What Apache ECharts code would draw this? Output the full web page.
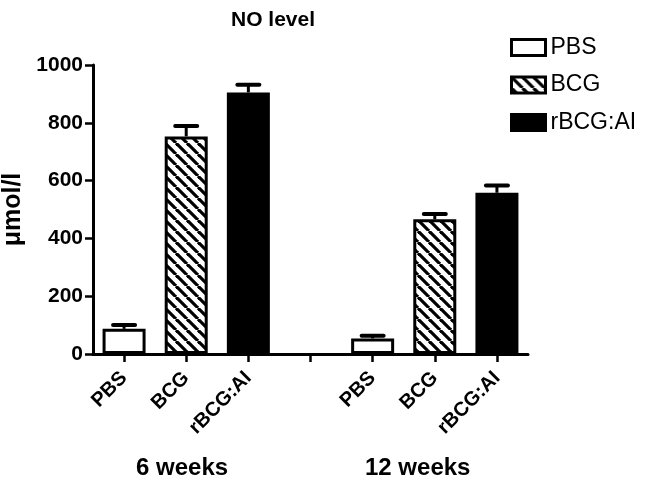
<!DOCTYPE html>
<html>
<head>
<meta charset="utf-8">
<script src="https://cdn.jsdelivr.net/npm/echarts@6/dist/echarts.min.js"></script>
<style>html,body{margin:0;padding:0;background:#fff;}#chart{width:646px;height:488px;}</style>
</head>
<body>
<div id="chart"></div>
<script>
// ---- data ----
const categories = ['PBS', 'BCG', 'rBCG:AI', '', 'PBS', 'BCG', 'rBCG:AI'];
const groupNames = ['PBS', 'BCG', 'rBCG:AI'];
const pbsValues   = [87, '-', '-', '-', 54, '-', '-'];
const bcgValues   = ['-', 753, '-', '-', '-', 466, '-'];
const rbcgValues  = ['-', '-', 905, '-', '-', '-', 558];
const errValues   = [13, 36, 27, null, 9, 18, 25];
const yTicks = [0, 200, 400, 600, 800, 1000];
const periodLabels = ['6 weeks', '12 weeks'];

// ---- build ----
const FONT = 'Liberation Sans, Arial, sans-serif';
function hatch() {
  const s = 11;
  const c = document.createElement('canvas');
  c.width = s; c.height = s;
  const g = c.getContext('2d');
  g.fillStyle = '#fff'; g.fillRect(0, 0, s, s);
  g.strokeStyle = '#000'; g.lineWidth = 3.2;
  [-s, 0, s].forEach(k => {
    g.beginPath(); g.moveTo(k, 0); g.lineTo(k + s, s); g.stroke();
  });
  return c;
}
const barValues = [pbsValues, bcgValues, rbcgValues];
const fills = ['#fff', {image: hatch(), repeat: 'repeat'}, '#000'];
const totals = categories.map((c, i) => {
  for (const arr of barValues) if (typeof arr[i] === 'number') return arr[i];
  return null;
});
const errData = [];
totals.forEach((v, i) => { if (v !== null && errValues[i] != null) errData.push([i, v, v + errValues[i]]); });

const chart = echarts.init(document.getElementById('chart'), null, {renderer: 'canvas'});
const series = groupNames.map((name, k) => ({
  name: name, type: 'bar', data: barValues[k], barWidth: 43, barGap: '-100%',
  itemStyle: {color: fills[k], borderColor: '#000', borderWidth: 3},
  z: 2
}));
series.push({
  type: 'custom', name: 'err', z: 1,
  data: errData,
  renderItem: function (params, api) {
    const x = api.value(0);
    const p0 = api.coord([x, api.value(1)]);
    const p1 = api.coord([x, api.value(2)]);
    const hw = 11;
    return {type: 'group', children: [
      {type: 'line', shape: {x1: p0[0], y1: p0[1], x2: p1[0], y2: p1[1]}, style: {stroke: '#000', lineWidth: 3}},
      {type: 'line', shape: {x1: p1[0] - hw, y1: p1[1], x2: p1[0] + hw, y2: p1[1]}, style: {stroke: '#000', lineWidth: 4, lineCap: 'round'}}
    ]};
  }
});
chart.setOption({
  animation: false,
  backgroundColor: '#fff',
  title: {text: 'NO level', left: 226, top: 5,
    textStyle: {fontFamily: FONT, fontWeight: 'bold', fontSize: 21, color: '#000'}},
  legend: {
    data: groupNames, orient: 'vertical', left: 505, top: 31,
    itemWidth: 34, itemHeight: 16, itemGap: 14.5, icon: 'rect',
    itemStyle: {borderWidth: 3, borderColor: '#000'},
    textStyle: {fontFamily: FONT, fontSize: 23, lineHeight: 20, color: '#000'}
  },
  grid: {left: 93, right: 118, top: 65, bottom: 134, containLabel: false, outerBoundsMode: 'none'},
  xAxis: {
    type: 'category', data: categories, boundaryGap: true,
    axisLine: {lineStyle: {color: '#000', width: 3}},
    axisTick: {show: true, length: 8, alignWithLabel: true, interval: 0, lineStyle: {color: '#000', width: 2.5}},
    axisLabel: {interval: 0, rotate: 45, margin: 21, fontFamily: FONT, fontWeight: 'bold', fontSize: 20, color: '#000'}
  },
  yAxis: {
    type: 'value', min: yTicks[0], max: yTicks[yTicks.length - 1], interval: yTicks[1] - yTicks[0],
    name: 'μmol/l', nameLocation: 'middle', nameRotate: 90, nameGap: 59,
    nameTextStyle: {fontFamily: FONT, fontWeight: 'bold', fontSize: 25, color: '#000'},
    axisLine: {show: true, lineStyle: {color: '#000', width: 3}},
    axisTick: {show: true, length: 8, lineStyle: {color: '#000', width: 2.5}},
    splitLine: {show: false},
    axisLabel: {margin: 10, fontFamily: FONT, fontWeight: 'bold', fontSize: 21, color: '#000',
      formatter: v => String(v)}
  },
  graphic: [
    {type: 'text', left: 183 - 47, top: 456, style: {text: periodLabels[0], font: 'bold 24px ' + FONT, fill: '#000'}},
    {type: 'text', left: 418 - 53, top: 456, style: {text: periodLabels[1], font: 'bold 24px ' + FONT, fill: '#000'}}
  ],
  series: series
});
</script>
</body>
</html>
